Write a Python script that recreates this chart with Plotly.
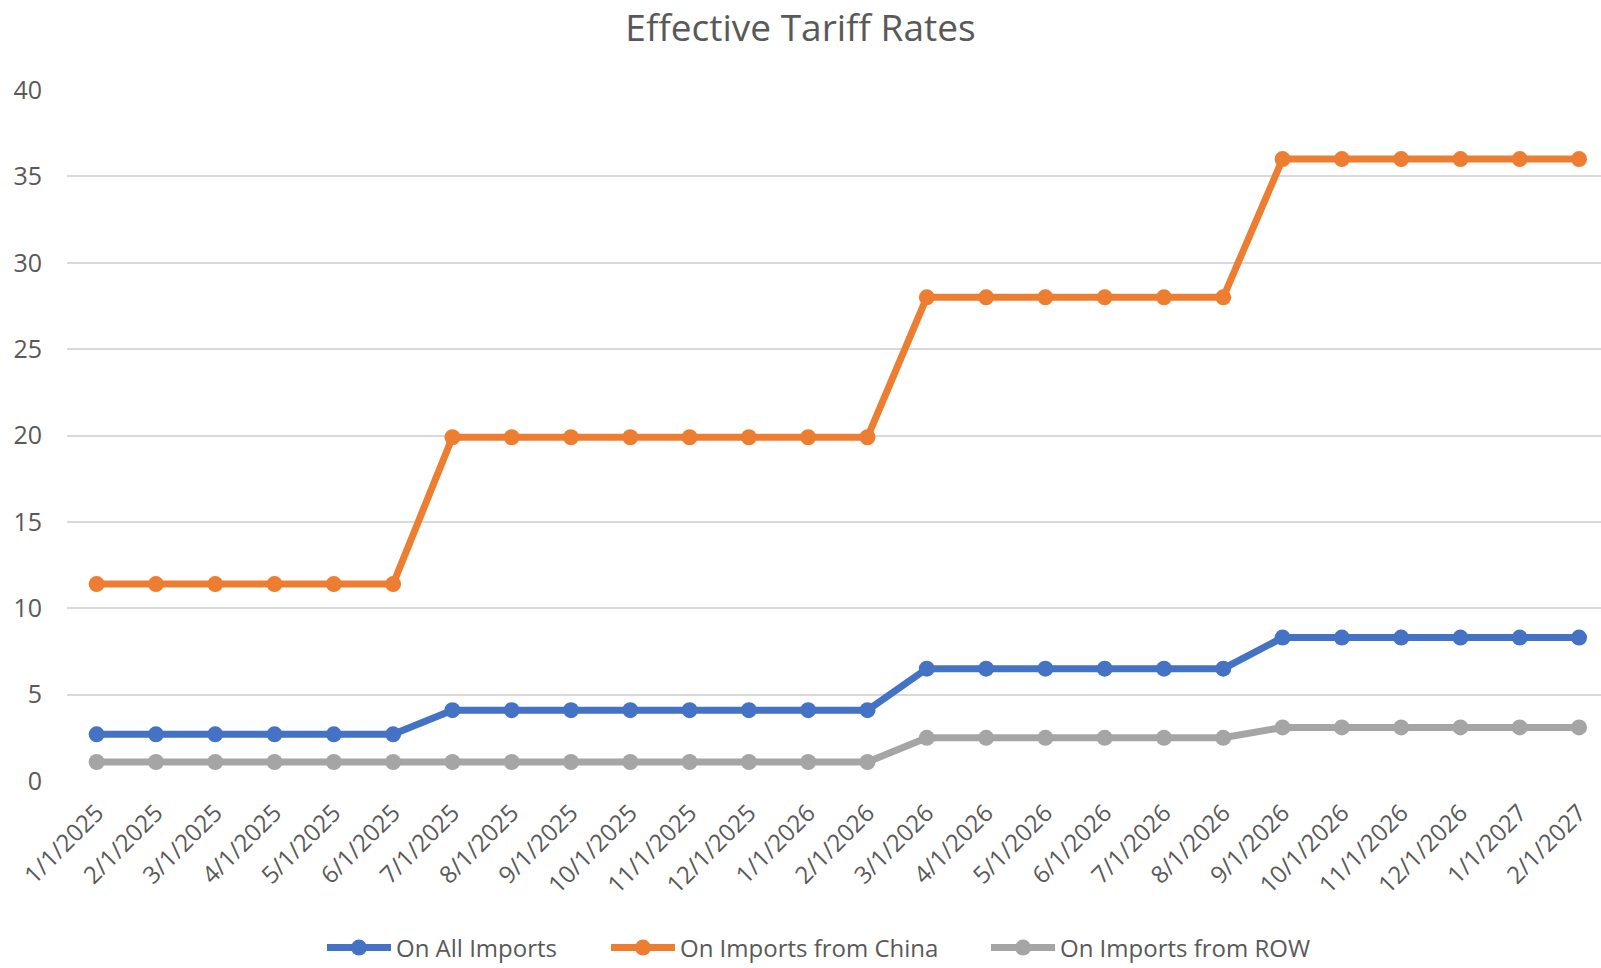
import plotly.graph_objects as go

dates = ["1/1/2025", "2/1/2025", "3/1/2025", "4/1/2025", "5/1/2025", "6/1/2025",
         "7/1/2025", "8/1/2025", "9/1/2025", "10/1/2025", "11/1/2025", "12/1/2025",
         "1/1/2026", "2/1/2026", "3/1/2026", "4/1/2026", "5/1/2026", "6/1/2026",
         "7/1/2026", "8/1/2026", "9/1/2026", "10/1/2026", "11/1/2026", "12/1/2026",
         "1/1/2027", "2/1/2027"]

all_imports = [2.7] * 6 + [4.1] * 8 + [6.5] * 6 + [8.3] * 6
china_imports = [11.4] * 6 + [19.9] * 8 + [28.0] * 6 + [36.0] * 6
row_imports = [1.1] * 14 + [2.5] * 6 + [3.1] * 6

series = [
    ("On All Imports", all_imports, "#4472C4"),
    ("On Imports from China", china_imports, "#ED7D31"),
    ("On Imports from ROW", row_imports, "#A5A5A5"),
]

FONT = "Open Sans, Segoe UI, sans-serif"
TEXT = "#595959"

# one legend box per series so the entries can be spaced out along the bottom
legend_ids = ["legend", "legend2", "legend3"]
legend_left_px = [322, 606, 986]

fig = go.Figure()
for (name, vals, color), lid in zip(series, legend_ids):
    fig.add_trace(go.Scatter(
        x=list(range(len(dates))), y=vals, name=name,
        mode="lines+markers",
        line=dict(color=color, width=7),
        marker=dict(color=color, size=16),
        legend=lid,
    ))

legend_style = dict(
    orientation="h", xref="container", yref="container",
    xanchor="left", y=(968 - 948) / 968, yanchor="middle",
    font=dict(family=FONT, size=24, color=TEXT),
    itemwidth=64, bgcolor="rgba(0,0,0,0)",
)

fig.update_layout(
    width=1601, height=968,
    margin=dict(l=67, r=0, t=90, b=187),
    paper_bgcolor="white", plot_bgcolor="white",
    title=dict(text="Effective Tariff Rates", x=0.5, xanchor="center",
               y=1 - 28 / 968, yanchor="middle",
               font=dict(family=FONT, size=37, color=TEXT)),
    font=dict(family=FONT, color=TEXT),
    showlegend=True,
    hovermode=False,
)
for lid, left in zip(legend_ids, legend_left_px):
    fig.update_layout({lid: dict(legend_style, x=left / 1601)})

fig.update_xaxes(
    tickmode="array", tickvals=list(range(len(dates))), ticktext=dates,
    tickangle=-45, tickfont=dict(size=24, color=TEXT), ticklabelstandoff=12,
    range=[-0.5, 25.37], showgrid=False, zeroline=False,
    showline=False, ticks="", automargin=False,
)
fig.update_yaxes(
    range=[0, 40], dtick=5, showgrid=True, gridcolor="#D9D9D9", gridwidth=2,
    zeroline=False, showline=False, ticks="",
    tickfont=dict(size=25, color=TEXT), ticklabelstandoff=24, automargin=False,
)

fig.write_html("out.html")
